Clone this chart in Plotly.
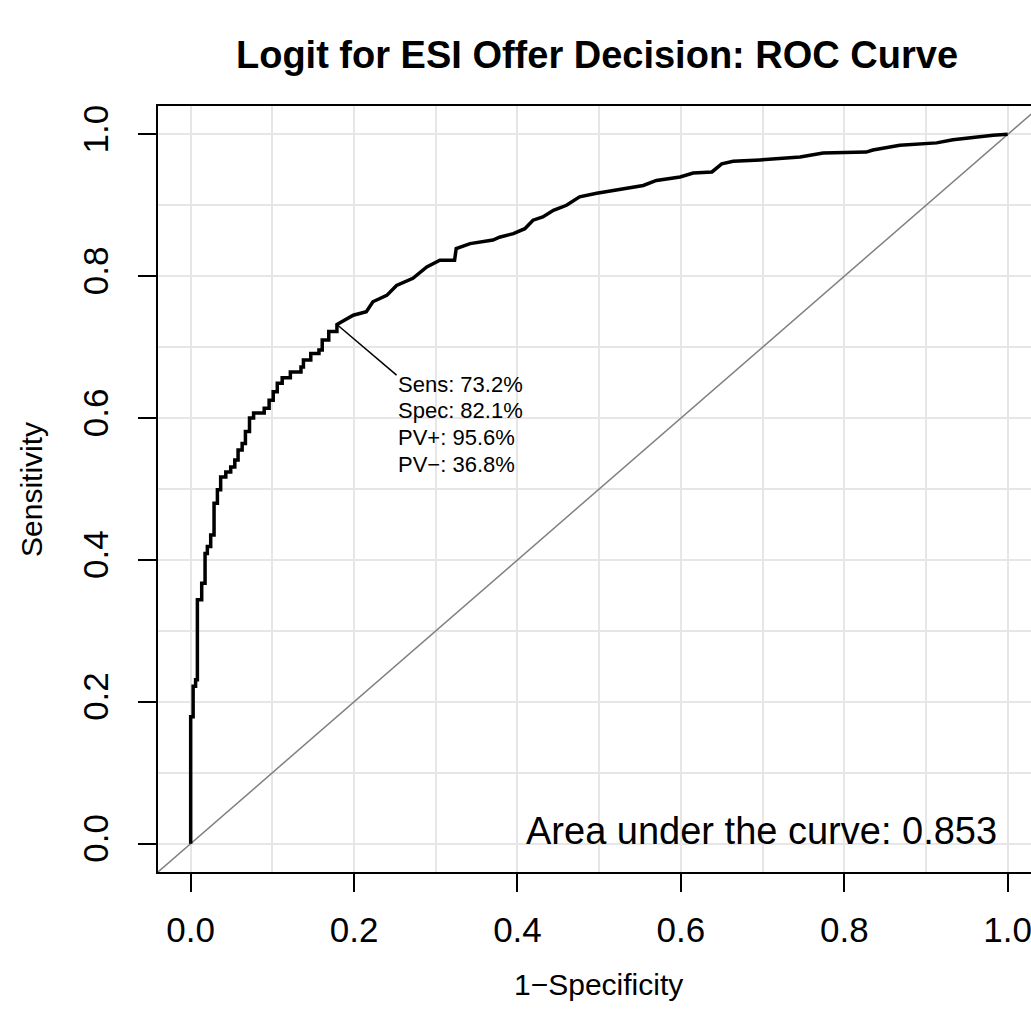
import plotly.graph_objects as go

# ROC curve points (1-Specificity, Sensitivity)
fpr = [0.0, 0.0, 0.003, 0.003, 0.006, 0.006, 0.0082, 0.0082, 0.0135, 0.0135,
       0.0176, 0.0176, 0.0204, 0.0204, 0.0245, 0.0245, 0.0286, 0.0286, 0.0327, 0.0327,
       0.0367, 0.0367, 0.043, 0.043, 0.049, 0.049, 0.054, 0.054, 0.058, 0.058,
       0.063, 0.063, 0.067, 0.067, 0.072, 0.072, 0.077, 0.077, 0.090, 0.090,
       0.096, 0.096, 0.101, 0.101, 0.106, 0.106, 0.112, 0.112, 0.122, 0.122,
       0.135, 0.135, 0.138, 0.138, 0.147, 0.147, 0.157, 0.157, 0.161, 0.161,
       0.169, 0.169, 0.179, 0.179,
       0.199, 0.215, 0.223, 0.240, 0.252, 0.272, 0.289, 0.305, 0.323, 0.325,
       0.342, 0.370, 0.378, 0.395, 0.409, 0.419, 0.431, 0.444, 0.460, 0.476,
       0.497, 0.517, 0.533, 0.554, 0.570, 0.599, 0.615, 0.638, 0.650, 0.664,
       0.697, 0.746, 0.774, 0.827, 0.835, 0.868, 0.913, 0.933, 0.982, 1.0]
tpr = [0.0, 0.179, 0.179, 0.222, 0.222, 0.231, 0.231, 0.344, 0.344, 0.367,
       0.367, 0.409, 0.409, 0.419, 0.419, 0.435, 0.435, 0.480, 0.480, 0.499,
       0.499, 0.517, 0.517, 0.524, 0.524, 0.531, 0.531, 0.541, 0.541, 0.555,
       0.555, 0.564, 0.564, 0.581, 0.581, 0.600, 0.600, 0.607, 0.607, 0.614,
       0.614, 0.625, 0.625, 0.637, 0.637, 0.649, 0.649, 0.657, 0.657, 0.665,
       0.665, 0.672, 0.672, 0.682, 0.682, 0.691, 0.691, 0.696, 0.696, 0.710,
       0.710, 0.722, 0.722, 0.732,
       0.745, 0.750, 0.764, 0.773, 0.787, 0.797, 0.813, 0.8225, 0.8225, 0.839,
       0.846, 0.851, 0.855, 0.860, 0.867, 0.879, 0.8835, 0.893, 0.900, 0.912,
       0.917, 0.921, 0.925, 0.928, 0.935, 0.940, 0.9455, 0.947, 0.9585, 0.962,
       0.964, 0.968, 0.9737, 0.975, 0.978, 0.9845, 0.988, 0.9925, 0.9986, 1.0]

best_fpr = 0.179
best_tpr = 0.732
thres_lines = ["Sens: 73.2%", "Spec: 82.1%", "PV+: 95.6%", "PV\u2212: 36.8%"]
auc_text = "Area under the curve: 0.853"
title_text = "<b>Logit for ESI Offer Decision: ROC Curve</b>"
x_title = "1\u2212Specificity"
y_title = "Sensitivity"
tick_vals = [0.0, 0.2, 0.4, 0.6, 0.8, 1.0]
tick_text = ["0.0", "0.2", "0.4", "0.6", "0.8", "1.0"]
minor_vals = [0.1, 0.3, 0.5, 0.7, 0.9]

FONT = "Liberation Sans, Arial, sans-serif"
W, H = 1031, 1025

fig = go.Figure()
# diagonal reference line
fig.add_trace(go.Scatter(x=[-0.04, 1.04], y=[-0.04, 1.04], mode="lines",
                         line=dict(color="#808080", width=1.5), hoverinfo="skip"))
# ROC curve
fig.add_trace(go.Scatter(x=fpr, y=tpr, mode="lines",
                         line=dict(color="black", width=3.5), hoverinfo="skip"))
# leader line to threshold text
fig.add_trace(go.Scatter(x=[best_fpr, 0.252], y=[best_tpr, 0.6606], mode="lines",
                         line=dict(color="black", width=1.5), hoverinfo="skip"))

for i, t in enumerate(thres_lines):
    fig.add_annotation(x=0.251, y=0.648 - i * 0.0376, xref="x", yref="y",
                       text=t, showarrow=False, xanchor="left", yanchor="middle",
                       font=dict(family=FONT, size=22, color="black"))

fig.add_annotation(x=0.6985, y=0.018, xref="x", yref="y", text=auc_text,
                   showarrow=False, xanchor="center", yanchor="middle",
                   font=dict(family=FONT, size=38, color="black"))

# title
fig.update_layout(
    title=dict(text=title_text, x=597 / W, xref="container", xanchor="center",
               y=1 - 55 / H, yref="container", yanchor="middle",
               font=dict(family=FONT, size=38, color="black")),
)

# axis titles as annotations (paper coords relative to plot area)
PL, PR, PT, PB = 158, 0, 106, 153
pw, ph = W - PL - PR, H - PT - PB
fig.add_annotation(x=(598 - PL) / pw, y=-(985 - (H - PB)) / ph, xref="paper", yref="paper",
                   text=x_title, showarrow=False, xanchor="center", yanchor="middle",
                   font=dict(family=FONT, size=30, color="black"))
fig.add_annotation(x=(32 - PL) / pw, y=1 - (490 - PT) / ph, xref="paper", yref="paper",
                   text=y_title, showarrow=False, textangle=-90,
                   xanchor="center", yanchor="middle",
                   font=dict(family=FONT, size=30, color="black"))

grid_col = "#E6E6E6"
common = dict(tickmode="array", tickvals=tick_vals, ticktext=tick_text,
              ticks="outside", ticklen=18, tickwidth=1.5, tickcolor="black",
              showline=True, linecolor="black", linewidth=2, zeroline=False,
              showgrid=True, gridcolor=grid_col, gridwidth=1.5, automargin=False,
              ticklabeloverflow="allow",
              minor=dict(tickvals=minor_vals, showgrid=True, gridcolor=grid_col,
                         gridwidth=1.5, ticks=""),
              tickfont=dict(family=FONT, size=35, color="black"))
fig.update_xaxes(range=[-0.04, (W - 191) / 816.7], mirror=True,
                 ticklabelstandoff=8, **common)
fig.update_yaxes(range=[-0.04, 1.04], mirror=False, tickangle=-90,
                 ticklabelstandoff=16, **common)

fig.update_layout(width=W, height=H, showlegend=False,
                  plot_bgcolor="white", paper_bgcolor="white",
                  margin=dict(l=PL, r=PR, t=PT, b=PB))

fig.write_html("out.html", config={"displayModeBar": False},
               post_script="document.body.style.margin='0';document.body.style.overflow='hidden';")
